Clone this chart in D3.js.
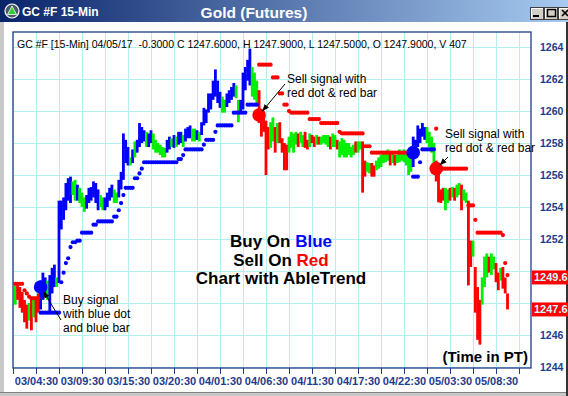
<!DOCTYPE html>
<html>
<head>
<meta charset="utf-8">
<script src="https://cdn.jsdelivr.net/npm/d3@7"></script>
<style>
body { margin: 0; background: #fff; }
svg { display: block; font-family: "Liberation Sans", Arial, sans-serif; }
</style>
</head>
<body>
<div id="chart"></div>
<script>
// window + plot frame
var width = 568, height = 396;
var plot = {left: 13, right: 531, top: 32, bottom: 368};

// ---- data: 15-min bars, index 1..215 ----
var firstBar = 1;
var barHigh = [
  1249.1, 1249.25, 1249.0, 1248.7, 1248.2, 1247.9, 1248.0, 1248.4, 1248.4, 1248.4,
  1248.6, 1249.4, 1249.9, 1249.6, 1249.4, 1249.75, 1250.2, 1250.4, 1249.6, 1254.4,
  1254.4, 1254.6, 1255.5, 1255.8, 1255.9, 1255.6, 1255.7, 1255.4, 1255.2, 1254.9,
  1254.6, 1254.75, 1255.2, 1255.25, 1255.6, 1255.5, 1255.1, 1254.75, 1254.6, 1254.6,
  1254.9, 1255.2, 1255.4, 1255.1, 1254.9, 1255.7, 1256.2, 1258.6, 1258.2, 1257.75,
  1257.1, 1257.6, 1258.1, 1258.2, 1259.25, 1259.0, 1258.8, 1258.7, 1258.6, 1258.8,
  1258.6, 1258.2, 1258.0, 1257.9, 1257.75, 1257.7, 1258.2, 1258.4, 1258.3, 1258.5,
  1258.4, 1258.7, 1258.7, 1258.5, 1258.9, 1259.0, 1259.1, 1258.9, 1258.9, 1258.8,
  1258.7, 1259.3, 1260.2, 1260.1, 1261.1, 1261.1, 1261.9, 1262.6, 1261.9, 1261.2,
  1260.9, 1260.7, 1261.1, 1261.3, 1261.5, 1261.75, 1261.6, 1260.7, 1260.7, 1262.4,
  1262.75, 1263.2, 1263.9, 1262.75, 1262.4, 1261.9, 1261.3, 1259.9, 1259.6, 1259.4,
  1259.0, 1259.3, 1259.6, 1259.0, 1259.25, 1259.3, 1258.3, 1258.0, 1257.9, 1258.4,
  1258.7, 1258.6, 1258.7, 1258.6, 1258.7, 1258.5, 1258.7, 1258.2, 1258.6, 1258.5,
  1258.4, 1258.5, 1258.4, 1258.4, 1258.5, 1258.5, 1258.5, 1258.4, 1258.6, 1258.5,
  1258.2, 1258.1, 1258.3, 1258.2, 1258.0, 1258.0, 1257.75, 1257.9, 1258.1, 1258.1,
  1258.1, 1258.1, 1256.9, 1256.8, 1256.75, 1256.75, 1256.6, 1256.9, 1257.1, 1257.25,
  1257.4, 1257.4, 1257.6, 1257.4, 1257.4, 1257.25, 1257.25, 1257.6, 1257.4, 1257.6,
  1257.4, 1257.4, 1257.1, 1258.4, 1258.2, 1259.1, 1258.9, 1259.25, 1259.0, 1259.0,
  1258.7, 1258.4, 1258.0, 1256.9, 1256.5, 1255.1, 1255.2, 1255.2, 1255.1, 1255.2,
  1255.25, 1255.2, 1255.4, 1255.5, 1255.4, 1255.1, 1254.9, 1254.4, 1251.9, 1251.9,
  1250.25, 1249.0, 1248.2, 1249.6, 1250.9, 1251.1, 1250.9, 1251.1, 1250.9, 1250.5,
  1249.9, 1250.2, 1250.25, 1249.6, 1248.6
];
var barLow = [
  1247.9, 1248.2, 1247.7, 1247.4, 1246.8, 1246.4, 1246.9, 1246.3, 1247.1, 1246.8,
  1247.4, 1247.6, 1248.2, 1248.4, 1248.2, 1247.4, 1248.6, 1249.0, 1249.0, 1249.25,
  1252.6, 1253.2, 1253.8, 1254.4, 1254.25, 1254.75, 1254.4, 1254.4, 1254.25, 1254.0,
  1253.7, 1253.9, 1254.25, 1254.4, 1254.6, 1254.25, 1253.8, 1254.0, 1253.8, 1253.8,
  1254.0, 1254.4, 1254.6, 1254.25, 1254.25, 1254.6, 1255.1, 1255.7, 1256.75, 1256.6,
  1256.6, 1256.75, 1257.1, 1257.4, 1257.75, 1258.0, 1258.1, 1257.75, 1257.75, 1258.0,
  1257.6, 1257.4, 1257.4, 1257.25, 1257.1, 1257.1, 1257.4, 1257.6, 1257.75, 1257.7,
  1257.75, 1257.9, 1258.0, 1257.75, 1258.1, 1258.3, 1258.3, 1258.1, 1258.1, 1258.2,
  1258.1, 1258.5, 1259.1, 1259.25, 1259.9, 1260.1, 1260.7, 1260.9, 1260.5, 1260.2,
  1259.9, 1259.9, 1260.25, 1260.5, 1260.7, 1260.9, 1260.8, 1259.3, 1259.9, 1260.1,
  1261.3, 1261.9, 1261.6, 1260.9, 1260.7, 1260.5, 1259.25, 1258.4, 1258.7, 1256.0,
  1257.6, 1257.7, 1258.1, 1257.4, 1258.0, 1258.0, 1257.4, 1256.3, 1256.3, 1257.4,
  1257.7, 1257.4, 1257.9, 1257.75, 1258.0, 1257.75, 1257.7, 1257.6, 1257.75, 1258.0,
  1257.75, 1257.9, 1257.9, 1257.9, 1258.0, 1257.9, 1257.75, 1257.6, 1257.75, 1257.75,
  1257.6, 1257.1, 1257.25, 1257.1, 1257.1, 1257.25, 1257.1, 1257.25, 1257.4, 1257.4,
  1257.6, 1254.9, 1255.9, 1256.2, 1256.1, 1255.9, 1255.9, 1256.3, 1256.4, 1256.5,
  1256.75, 1256.8, 1256.9, 1256.6, 1256.75, 1256.6, 1256.75, 1256.8, 1256.9, 1256.8,
  1256.6, 1256.0, 1256.2, 1256.5, 1257.1, 1257.75, 1258.0, 1258.4, 1258.2, 1258.0,
  1257.75, 1257.4, 1256.75, 1255.6, 1254.3, 1254.25, 1254.4, 1253.8, 1254.25, 1254.4,
  1254.6, 1254.4, 1254.6, 1254.75, 1253.8, 1254.4, 1254.25, 1249.1, 1250.25, 1250.9,
  1247.4, 1245.7, 1245.4, 1247.9, 1249.0, 1249.6, 1249.9, 1249.75, 1250.1, 1249.3,
  1248.8, 1249.4, 1248.9, 1248.6, 1247.6
];
// b = blue (up), g = green (neutral), r = red (down)
var barColor = ("grrrrrgrgr rbbbgbbbgb bbbbbggbgg gbbbbbbggb bbbggbbbbb gbgbbbbgbb " +
  "ggggggbbgb gbbgbbbggb gbbbbbbbbb ggbbbbggbb bbbgggrrrr rggrgrrrrg gggrggrrgr " +
  "rgrggggrgg rgggggggrg grrggrrggg gggrgrgggg gggbbbbbbg gggrrrrggr grggrggrrg " +
  "rrrgggrggr rgrrr").replace(/ /g, "").split("");

// AbleTrend stop dots, one per bar
var stopPrice = [
  1249.2, 1249.2, 1249.2, 1249.2, 1248.8, 1248.6, 1248.4, 1248.3, 1248.3, 1248.3,
  1248.3, 1247.4, 1247.4, 1247.4, 1247.4, 1247.4, 1247.4, 1247.4, 1247.4, 1247.4,
  1249.3, 1249.9, 1250.5, 1250.8, 1251.5, 1251.8, 1251.8, 1251.9, 1251.9, 1252.4,
  1252.4, 1252.4, 1252.4, 1252.4, 1252.9, 1252.9, 1253.1, 1253.1, 1253.1, 1253.1,
  1253.1, 1253.1, 1253.1, 1253.4, 1253.4, 1253.8, 1254.25, 1254.75, 1255.2, 1255.2,
  1255.2, 1255.2, 1255.8, 1255.8, 1256.1, 1256.4, 1256.8, 1256.8, 1256.8, 1256.8,
  1256.8, 1256.8, 1256.8, 1256.8, 1256.8, 1256.8, 1256.8, 1256.8, 1256.8, 1256.8,
  1256.8, 1257.0, 1257.0, 1257.25, 1257.6, 1257.6, 1257.6, 1257.6, 1257.6, 1257.6,
  1257.6, 1257.6, 1257.9, 1258.2, 1258.2, 1258.2, 1258.2, 1258.7, 1259.1, 1259.1,
  1259.1, 1259.1, 1259.1, 1259.1, 1259.1, 1259.9, 1259.9, 1259.9, 1259.9, 1259.9,
  1259.9, 1260.4, 1260.4, 1260.4, 1260.4, 1260.4, 1262.9, 1262.9, 1262.9, 1262.9,
  1262.9, 1262.9, 1262.1, 1262.1, 1262.1, 1261.1, 1261.1, 1260.4, 1260.4, 1260.0,
  1259.9, 1259.9, 1259.9, 1259.9, 1259.9, 1259.9, 1259.9, 1259.9, 1259.5, 1259.5,
  1259.5, 1259.5, 1259.5, 1259.25, 1259.25, 1259.25, 1259.25, 1259.25, 1259.25, 1259.25,
  1259.25, 1258.7, 1258.6, 1258.6, 1258.6, 1258.6, 1258.6, 1258.6, 1258.6, 1258.6,
  1258.6, 1258.6, 1257.8, 1257.8, 1257.8, 1257.4, 1257.4, 1257.4, 1257.4, 1257.4,
  1257.4, 1257.4, 1257.4, 1257.4, 1257.4, 1257.4, 1257.4, 1257.4, 1257.4, 1257.4,
  1257.4, 1257.4, 1257.4, 1255.9, 1255.9, 1255.9, 1256.8, 1257.6, 1257.6, 1257.6,
  1257.6, 1257.6, 1257.6, 1258.9, 1256.4, 1256.4, 1256.4, 1256.4, 1256.4, 1256.4,
  1256.4, 1256.4, 1256.4, 1256.4, 1256.4, 1256.4, 1256.4, 1254.1, 1254.1, 1254.1,
  1253.2, 1252.4, 1252.4, 1252.4, 1252.4, 1252.4, 1252.4, 1252.4, 1252.4, 1252.4,
  1252.4, 1252.4, 1252.25, 1250.5, 1249.75
];
var trendStart = [1, 12, 107, 174, 184];
var trendColor = ["r", "b", "r", "b", "r"];

// big signal dots
var signalBar = [12, 107, 174, 184];
var signalPrice = [1249.0, 1259.75, 1257.4, 1256.4];
var signalColor = ["b", "r", "b", "r"];

// axes
var tickBars = [0, 10, 20, 30, 40, 50, 60, 70, 80, 90, 100, 110, 120, 130, 140, 150, 160, 170, 180, 190, 200, 210, 220];
var labelBars = [10, 30, 50, 70, 90, 110, 130, 150, 170, 190, 210];
var tickLabels = ["03/04:30", "03/09:30", "03/15:30", "03/20:30", "04/01:30", "04/06:30",
  "04/11:30", "04/17:30", "04/22:30", "05/03:30", "05/08:30"];
var priceTicks = [1244, 1246, 1248, 1250, 1252, 1254, 1256, 1258, 1260, 1262, 1264];
var priceTags = [1249.6, 1247.6];

var colors = {b: "#0000ff", g: "#00ee00", r: "#ff0000"};
var navy = "#1e3c8c";

var x = d3.scaleLinear().domain([0, 225]).range([plot.left, 530.5]);
var y = d3.scaleLinear().domain([1243.94, 1264.94]).range([plot.bottom, plot.top]);

var svg = d3.select("#chart").append("svg")
  .attr("width", width)
  .attr("height", height);

var defs = svg.append("defs");
var grad = defs.append("linearGradient").attr("id", "titleGrad");
grad.append("stop").attr("offset", "0%").attr("stop-color", "#0a246a");
grad.append("stop").attr("offset", "100%").attr("stop-color", "#a6caf0");
defs.append("clipPath").attr("id", "plotClip").append("rect")
  .attr("x", plot.left).attr("y", plot.top)
  .attr("width", plot.right - plot.left).attr("height", plot.bottom - plot.top);
defs.append("marker").attr("id", "arrow")
  .attr("viewBox", "0 0 10 10").attr("refX", 10).attr("refY", 5)
  .attr("markerWidth", 7).attr("markerHeight", 7).attr("orient", "auto")
  .append("path").attr("d", "M0,1 L10,5 L0,9 z").attr("fill", "#000");

// window chrome
svg.append("rect").attr("width", width).attr("height", height).attr("fill", "#fff");
svg.append("rect").attr("width", width).attr("height", 22).attr("fill", "url(#titleGrad)");
svg.append("rect").attr("x", 0).attr("y", 22).attr("width", 4).attr("height", height - 22).attr("fill", "#c8c8c8");
svg.append("rect").attr("x", 0).attr("y", 392).attr("width", width).attr("height", 4).attr("fill", "#c8c8c8");
svg.append("line").attr("x1", 0).attr("x2", width).attr("y1", 392.5).attr("y2", 392.5).attr("stroke", "#808080");
svg.append("rect").attr("x", 566).attr("y", 22).attr("width", 2).attr("height", height - 22).attr("fill", "#333");

// title icon
svg.append("circle").attr("cx", 12).attr("cy", 11).attr("r", 7).attr("fill", "#4a5a6a").attr("stroke", "#fff").attr("stroke-width", 1.2);
svg.append("path").attr("d", "M12,6 L16.5,14.5 L7.5,14.5 z").attr("fill", "#3c3").attr("stroke", "#fff").attr("stroke-width", 0.8);

svg.append("text").attr("x", 22).attr("y", 16).attr("fill", "#fff")
  .attr("font-size", 12).attr("font-weight", "bold").text("GC #F 15-Min");
svg.append("text").attr("x", 254).attr("y", 18).attr("fill", "#fff").attr("text-anchor", "middle")
  .attr("font-size", 15.5).attr("font-weight", "bold").text("Gold (Futures)");

// min / max / close buttons
[530, 544, 558].forEach(function(bx, k) {
  svg.append("rect").attr("x", bx + 0.5).attr("y", 7.5).attr("width", 13).attr("height", 12)
    .attr("fill", "#d4d0c8").attr("stroke", "#404040");
  svg.append("path").attr("d", "M" + (bx + 1.5) + ",18.5 V8.5 H" + (bx + 13))
    .attr("fill", "none").attr("stroke", "#fff");
  if (k == 0) svg.append("rect").attr("x", bx + 3).attr("y", 15).attr("width", 6).attr("height", 2).attr("fill", "#000");
  if (k == 1) svg.append("rect").attr("x", bx + 3.5).attr("y", 9.5).attr("width", 8).attr("height", 7).attr("fill", "none").attr("stroke", "#000").attr("stroke-width", 1.5);
  if (k == 2) svg.append("path").attr("d", "M" + (bx + 4) + ",10 l6,6 M" + (bx + 10) + ",10 l-6,6").attr("stroke", "#000").attr("stroke-width", 1.6);
});

// grid
var grid = svg.append("g").attr("stroke", "#b4f0f0").attr("stroke-width", 1);
grid.selectAll(".vg").data(tickBars).enter().append("line")
  .attr("x1", function(d) { return Math.round(x(d)) + 0.5; })
  .attr("x2", function(d) { return Math.round(x(d)) + 0.5; })
  .attr("y1", plot.top).attr("y2", plot.bottom);
grid.selectAll(".hg").data(priceTicks).enter().append("line")
  .attr("x1", plot.left).attr("x2", plot.right)
  .attr("y1", function(d) { return Math.round(y(d)) + 0.5; })
  .attr("y2", function(d) { return Math.round(y(d)) + 0.5; });

// bars + stops
var bars = d3.range(barHigh.length).map(function(k) {
  var i = k + firstBar;
  var t = 0;
  trendStart.forEach(function(s, j) { if (i >= s) t = j; });
  return {i: i, hi: barHigh[k], lo: barLow[k], c: barColor[k], stop: stopPrice[k], tc: trendColor[t]};
});

var marks = svg.append("g").attr("clip-path", "url(#plotClip)");

marks.selectAll(".bar").data(bars).enter().append("rect")
  .attr("x", function(d) { return x(d.i) - 1.4; })
  .attr("y", function(d) { return y(d.hi); })
  .attr("width", 2.8)
  .attr("height", function(d) { return Math.max(1.5, y(d.lo) - y(d.hi)); })
  .attr("fill", function(d) { return colors[d.c]; });

marks.selectAll(".stop").data(bars).enter().append("circle")
  .attr("cx", function(d) { return x(d.i); })
  .attr("cy", function(d) { return y(d.stop); })
  .attr("r", 2.1)
  .attr("fill", function(d) { return colors[d.tc]; });

marks.selectAll(".signal").data(signalBar).enter().append("circle")
  .attr("cx", function(d) { return x(d); })
  .attr("cy", function(d, k) { return y(signalPrice[k]); })
  .attr("r", 6.8)
  .attr("fill", function(d, k) { return colors[signalColor[k]]; });

// frame
svg.append("rect").attr("x", plot.left).attr("y", plot.top)
  .attr("width", plot.right - plot.left).attr("height", plot.bottom - plot.top)
  .attr("fill", "none").attr("stroke", navy).attr("stroke-width", 1.3);

// x axis
var xAxis = d3.axisBottom(x)
  .tickValues(tickBars)
  .tickSize(6)
  .tickFormat(function(d) { var k = labelBars.indexOf(d); return k < 0 ? "" : tickLabels[k]; });
var gx = svg.append("g").attr("transform", "translate(0," + plot.bottom + ")").call(xAxis);
gx.select(".domain").remove();
gx.attr("font-family", null).attr("font-size", 11).attr("font-weight", "bold");
gx.selectAll("line").attr("stroke", navy);
gx.selectAll("text").attr("fill", navy);

// y axis (right)
var yAxis = d3.axisRight(y).tickValues(priceTicks).tickSize(0).tickPadding(9).tickFormat(d3.format("d"));
var gy = svg.append("g").attr("transform", "translate(" + plot.right + ",0)").call(yAxis);
gy.select(".domain").remove();
gy.attr("font-family", null).attr("font-size", 10.5).attr("font-weight", "bold");
gy.selectAll("text").attr("fill", navy);
// labels sitting under the price tags are covered in the original
gy.selectAll(".tick")
  .filter(function(d) { return priceTags.some(function(p) { return Math.abs(p - d) < 0.6; }); })
  .select("text").remove();

// current price tags
priceTags.forEach(function(p) {
  svg.append("rect").attr("x", 532).attr("y", y(p) - 7).attr("width", 40).attr("height", 14).attr("fill", "#ff0000");
  svg.append("text").attr("x", 534).attr("y", y(p) + 4).attr("fill", "#c8ffff")
    .attr("font-size", 11).attr("font-weight", "bold").text(p.toFixed(1));
});

// header line
svg.append("text").attr("x", 17).attr("y", 48).attr("font-size", 10.5).attr("fill", "#000")
  .attr("xml:space", "preserve")
  .text("GC #F [15-Min] 04/05/17  -0.3000 C 1247.6000, H 1247.9000, L 1247.5000, O 1247.9000, V 407");

// centre caption
var cap = svg.append("text").attr("x", 281).attr("text-anchor", "middle")
  .attr("font-size", 17).attr("font-weight", "bold").attr("fill", "#000");
var l1 = cap.append("tspan").attr("x", 281).attr("y", 247);
l1.append("tspan").text("Buy On ");
l1.append("tspan").attr("fill", colors.b).text("Blue");
var l2 = cap.append("tspan").attr("x", 281).attr("y", 265.5);
l2.append("tspan").text("Sell On ");
l2.append("tspan").attr("fill", colors.r).text("Red");
cap.append("tspan").attr("x", 281).attr("y", 284).text("Chart with AbleTrend");

svg.append("text").attr("x", 528).attr("y", 362).attr("text-anchor", "end")
  .attr("font-size", 15).attr("font-weight", "bold").text("(Time in PT)");

// annotations with arrows pointing at the signal dots
var notes = [
  {lines: ["Buy signal", "with blue dot", "and blue bar"], tx: 63, ty: 304, from: [61, 320], sig: 0},
  {lines: ["Sell signal with", "red dot & red bar"], tx: 287, ty: 82.5, from: [285, 84], sig: 1},
  {lines: ["Sell signal with", "red dot & red bar"], tx: 445, ty: 137.5, from: [448, 157], sig: 3}
];
notes.forEach(function(n) {
  var t = svg.append("text").attr("font-size", 12).attr("fill", "#000");
  n.lines.forEach(function(s, k) {
    t.append("tspan").attr("x", n.tx).attr("y", n.ty + k * 14).text(s);
  });
  var cx = x(signalBar[n.sig]), cy = y(signalPrice[n.sig]);
  var dx = n.from[0] - cx, dy = n.from[1] - cy, len = Math.sqrt(dx * dx + dy * dy);
  svg.append("line")
    .attr("x1", n.from[0]).attr("y1", n.from[1])
    .attr("x2", cx + dx / len * 5).attr("y2", cy + dy / len * 5)
    .attr("stroke", "#000").attr("stroke-width", 1)
    .attr("marker-end", "url(#arrow)");
});
</script>
</body>
</html>
